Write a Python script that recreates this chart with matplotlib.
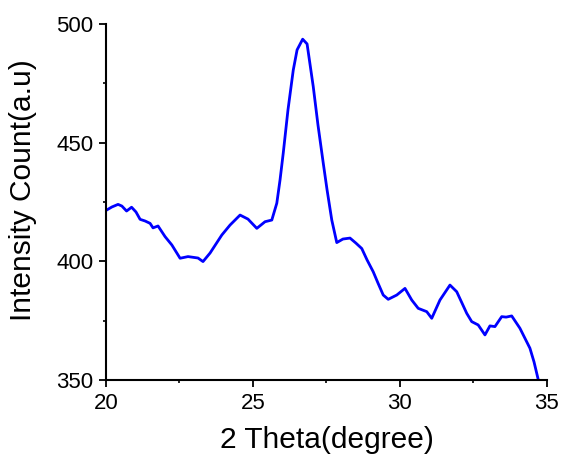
import matplotlib
matplotlib.use("Agg")
import matplotlib.pyplot as plt
from matplotlib.ticker import MultipleLocator

plt.rcParams['font.family'] = ['Liberation Sans', 'DejaVu Sans']

two_theta = [20.02, 20.20, 20.41, 20.54, 20.70, 20.87, 21.02, 21.16, 21.33, 21.50,
             21.60, 21.77, 22.01, 22.24, 22.52, 22.79, 23.13, 23.30, 23.54, 23.74,
             23.94, 24.22, 24.56, 24.83, 25.13, 25.41, 25.64, 25.81, 25.92, 26.03,
             26.19, 26.37, 26.50, 26.69, 26.84, 27.05, 27.21, 27.39, 27.52, 27.68,
             27.85, 28.06, 28.30, 28.50, 28.70, 28.88, 29.09, 29.25, 29.43, 29.60,
             29.89, 30.17, 30.40, 30.62, 30.91, 31.08, 31.36, 31.70, 31.93, 32.11,
             32.27, 32.44, 32.66, 32.89, 33.06, 33.23, 33.46, 33.61, 33.80, 34.08,
             34.25, 34.42, 34.56, 34.70]
intensity = [421.6, 422.9, 424.0, 423.3, 421.2, 422.8, 420.8, 417.7, 417.0, 416.0,
             414.1, 414.9, 410.4, 406.9, 401.3, 402.0, 401.4, 399.9, 403.5, 407.3,
             411.1, 415.3, 419.5, 417.8, 413.9, 416.7, 417.4, 424.5, 434.3, 445.7,
             463.8, 480.6, 489.1, 493.6, 491.6, 473.6, 457.5, 441.4, 430.1, 417.4,
             407.9, 409.4, 409.8, 407.7, 405.4, 400.6, 395.6, 390.9, 385.8, 384.0,
             385.8, 388.6, 383.7, 380.2, 378.8, 376.0, 383.7, 390.0, 387.2, 382.4,
             378.1, 374.6, 373.2, 369.0, 372.8, 372.5, 376.7, 376.5, 377.0, 371.8,
             367.6, 363.4, 357.6, 350.3]

x_ticks = [20, 25, 30, 35]
y_ticks = [350, 400, 450, 500]

fig = plt.figure(figsize=(5.65, 4.59), dpi=100)
ax = fig.add_axes([0.1876, 0.1721, 0.7805, 0.7756])
ax.plot(two_theta, intensity, color='#0000ff', linewidth=2.0)

ax.set_xlim(20, 35)
ax.set_ylim(350, 500)
ax.set_xticks(x_ticks)
ax.set_yticks(y_ticks)
ax.xaxis.set_minor_locator(MultipleLocator(2.5))
ax.yaxis.set_minor_locator(MultipleLocator(25))
ax.spines['top'].set_visible(False)
ax.spines['right'].set_visible(False)
for s in ('left', 'bottom'):
    ax.spines[s].set_linewidth(1.5)
ax.tick_params(which='major', direction='out', length=5, width=1.3, labelsize=16)
ax.tick_params(axis='y', which='major', pad=4)
ax.tick_params(axis='x', which='major', pad=4)
ax.tick_params(which='minor', direction='out', length=2.5, width=1.2)

ax.set_xlabel('2 Theta(degree)', fontsize=21.5)
ax.set_ylabel('Intensity Count(a.u)', fontsize=21.5)
ax.xaxis.set_label_coords(0.5, -0.168, transform=ax.transAxes)
ax.yaxis.set_label_coords(-0.188, 0.534, transform=ax.transAxes)
ax.xaxis.label.set_va('center')
ax.yaxis.label.set_va('center')

fig.savefig('out.png', dpi=100)
